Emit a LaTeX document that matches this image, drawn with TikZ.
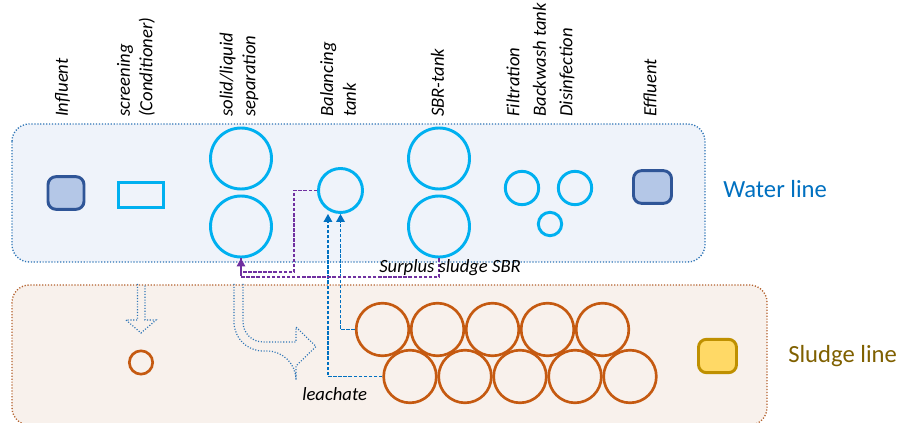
\documentclass[tikz,border=0pt]{standalone}
\usepackage{fontspec}
\setmainfont{Carlito}
\usetikzlibrary{arrows.meta, positioning, calc}

\definecolor{tankblue}{HTML}{00B0F0}
\definecolor{waterfill}{HTML}{EFF3FA}
\definecolor{waterdot}{HTML}{2E75B6}
\definecolor{sludgefill}{HTML}{F8F1EC}
\definecolor{sludgedot}{HTML}{B4622E}
\definecolor{sludgetank}{HTML}{C55A11}
\definecolor{endfill}{HTML}{B4C7E7}
\definecolor{enddraw}{HTML}{2F5597}
\definecolor{yelfill}{HTML}{FFD966}
\definecolor{yeldraw}{HTML}{BF9000}
\definecolor{leachblue}{HTML}{0070C0}
\definecolor{surpurple}{HTML}{7030A0}
\definecolor{sludgetext}{HTML}{7F6000}

\begin{document}
\begin{tikzpicture}[
    x=0.75pt, y=-0.75pt, % 以像素为单位
    >={Triangle[width=6.5pt, length=6pt]}, % 实心三角箭头
    waterbox/.style={fill=waterfill, draw=waterdot, line width=1pt, dash pattern=on 0.9pt off 1.3pt, rounded corners=13pt}, % 水线框
    sludgebox/.style={fill=sludgefill, draw=sludgedot, line width=1pt, dash pattern=on 0.9pt off 1.3pt, rounded corners=13pt}, % 泥线框
    bigtank/.style={circle, draw=tankblue, line width=2.2pt, inner sep=0pt, minimum size=45.75pt}, % 大池
    tank/.style={circle, draw=tankblue, line width=2.2pt, inner sep=0pt}, % 其他池
    bed/.style={circle, draw=sludgetank, line width=2pt, inner sep=0pt, minimum size=39.5pt}, % 污泥池
    endbox/.style={rounded corners=6pt, fill=endfill, draw=enddraw, line width=2.2pt, inner sep=0pt, minimum width=27pt, minimum height=24.5pt}, % 进出水
    unitlabel/.style={font=\fontsize{14}{17}\selectfont\itshape, rotate=90, anchor=west, align=left, inner sep=0pt}, % 竖排标注
    linelabel/.style={font=\fontsize{18.5}{22}\selectfont, anchor=west, inner sep=0pt}, % 线路名称
    leach/.style={leachblue, line width=0.9pt, dash pattern=on 2.6pt off 1.2pt}, % 渗滤液(蓝色虚线)
    surplus/.style={surpurple, line width=0.9pt, dash pattern=on 2.6pt off 1.2pt}, % 剩余污泥(紫色虚线)
    hollow/.style={waterdot, line width=0.9pt, dash pattern=on 0.8pt off 1.3pt} % 空心点线箭头
]
    \useasboundingbox (0,0) rectangle (906,423);

    % 1. 两条线路的底框
    \draw[waterbox] (12,124) rectangle (705,262);
    \draw[sludgebox] (12,285) rectangle (767,425);
    \node[linelabel, text=leachblue] (waterline) at (723,189) {Water line};
    \node[linelabel, text=sludgetext] (sludgeline) at (788,356) {Sludge line};

    % 2. 竖排工艺名称
    \foreach \xx/\nm/\txt in {62.5/lInf/Influent, 136/lScr/{screening\\(Conditioner)},
        239/lSep/{solid/liquid\\separation}, 338/lBal/{Balancing\\tank}, 437.5/lSbr/SBR-tank,
        513/lFil/Filtration, 539.5/lWash/Backwash tank, 567/lDis/Disinfection, 650/lEff/Effluent}
        \node[unitlabel] (\nm) at (\xx,117) {\txt};

    % 3. 水线构筑物
    \node[endbox] (infl) at (66,193) {};
    \node[draw=tankblue, line width=2pt, inner sep=0pt, minimum width=34pt, minimum height=19pt] (screen) at (141,195) {};
    \node[bigtank] (sep1) at (241,158.5) {};
    \node[bigtank] (sep2) at (241,226.5) {};
    \node[tank, minimum size=33pt] (bal) at (340.5,190.5) {};
    \node[bigtank] (sbr1) at (439,158.5) {};
    \node[bigtank] (sbr2) at (439,226.5) {};
    \node[tank, minimum size=25pt] (filt) at (522,188) {};
    \node[tank, minimum size=25pt] (wash) at (575,188) {};
    \node[tank, minimum size=17.5pt] (disinf) at (550,224) {};
    \node[endbox, minimum width=28.5pt] (effl) at (652.5,187) {};

    % 4. 泥线构筑物
    \node[circle, draw=sludgetank, line width=2pt, inner sep=0pt, minimum size=17.5pt] (thick) at (141,362.5) {};
    \foreach \i in {1,...,5} {
        \node[bed] (top\i) at ({382.5+55*(\i-1)},329.5) {};
        \node[bed] (bot\i) at ({410+55*(\i-1)},376.5) {};
    }
    \node[endbox, fill=yelfill, draw=yeldraw, minimum width=28.5pt, minimum height=25pt] (sludgeout) at (717.5,356) {};

    % 5. 空心点线箭头
    \draw[hollow] (137.5,284) -- (137.5,320) -- (126,320) -- (141,333) -- (156,320) -- (145,320) -- (145,284);
    \draw[hollow] (234,284) [rounded corners=21.75pt] -- (234,351) -- (296,351) [sharp corners] -- (296,366)
        -- (316,346.5) -- (296,327) -- (296,342) [rounded corners=15pt] -- (243,342) -- (243,284);

    % 6. 渗滤液回流与剩余污泥
    \draw[leach, ->] (top1.west) -| (bal.south);
    \draw[leach, ->] (bot1.west) -| ([xshift=-9.4pt]bal.south);
    \coordinate (join) at (241,277);
    \draw[surplus, ->] (bal.west) -| (294,272) -| (sep2.south);
    \draw[surplus] (sbr2.south) |- (join) -- (sep2.south);
    \node[font=\fontsize{14}{17}\selectfont\itshape, anchor=west, inner sep=0pt] (surlabel) at (379,268) {Surplus sludge SBR};
    \node[font=\fontsize{14}{17}\selectfont\itshape, anchor=west, inner sep=0pt] (leachlabel) at (302,394) {leachate};
\end{tikzpicture}
\end{document}
